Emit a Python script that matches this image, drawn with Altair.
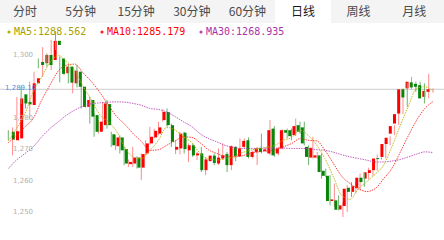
import altair as alt
import pandas as pd

# ---------------- data ----------------
opens = [1275.6, 1272.9, 1273.5, 1287.5, 1285.1, 1284.1, 1291.0, 1297.8, 1297.4, 1300.0,
         1298.4, 1304.5, 1298.9, 1294.2, 1296.3, 1291.0, 1294.7, 1289.9, 1283.5, 1285.7,
         1280.9, 1275.6, 1277.7, 1284.4, 1274.8, 1271.0, 1273.8, 1270.1, 1265.3, 1265.5,
         1267.4, 1264.2, 1268.7, 1271.9, 1273.8, 1275.0, 1279.3, 1281.9, 1277.7, 1269.9,
         1270.3, 1275.3, 1269.7, 1271.3, 1268.1, 1268.7, 1263.4, 1266.3, 1268.0, 1265.5,
         1267.1, 1268.5, 1265.0, 1270.8, 1267.8, 1270.8, 1272.9, 1267.6, 1269.2, 1270.5,
         1269.5, 1268.7, 1276.6, 1268.7, 1270.3, 1276.1, 1276.1, 1274.5, 1277.7, 1277.0,
         1270.8, 1267.4, 1267.4, 1268.1, 1263.2, 1261.6, 1253.6, 1253.8, 1250.9, 1252.0,
         1257.8, 1256.5, 1257.7, 1261.0, 1260.7, 1262.5, 1263.4, 1267.2, 1267.6, 1271.7,
         1275.0, 1278.2, 1281.4, 1289.1, 1289.4, 1291.3, 1290.8, 1290.4, 1286.7, 1288.3]
highs = [1276.1, 1277.0, 1286.7, 1289.9, 1286.7, 1291.5, 1294.7, 1298.9, 1302.5, 1300.5,
         1304.8, 1307.6, 1299.5, 1296.8, 1296.8, 1295.8, 1296.8, 1291.0, 1286.2, 1286.7,
         1281.4, 1279.3, 1285.1, 1285.7, 1275.6, 1274.5, 1274.5, 1270.8, 1266.8, 1270.8,
         1267.8, 1268.7, 1272.9, 1277.2, 1276.6, 1278.8, 1282.7, 1283.0, 1278.2, 1272.9,
         1275.6, 1275.6, 1271.9, 1271.9, 1269.2, 1270.8, 1267.6, 1268.1, 1268.7, 1270.3,
         1271.9, 1269.2, 1271.3, 1271.0, 1273.5, 1273.5, 1273.8, 1269.7, 1270.8, 1275.0,
         1270.5, 1279.3, 1277.4, 1270.8, 1276.4, 1276.6, 1276.6, 1279.8, 1278.8, 1278.8,
         1271.3, 1274.0, 1269.2, 1268.7, 1263.9, 1261.8, 1259.1, 1255.4, 1253.3, 1258.6,
         1259.6, 1259.6, 1262.3, 1262.5, 1264.2, 1263.9, 1268.4, 1267.4, 1271.9, 1274.2,
         1277.7, 1283.8, 1289.4, 1291.2, 1293.1, 1291.5, 1291.5, 1291.0, 1294.0, 1289.4]
lows = [1272.9, 1268.1, 1273.2, 1284.4, 1283.0, 1279.8, 1290.8, 1295.8, 1293.1, 1296.3,
        1295.2, 1301.6, 1291.3, 1293.6, 1291.0, 1287.8, 1289.7, 1283.0, 1283.3, 1278.2,
        1274.0, 1275.0, 1276.1, 1276.6, 1270.8, 1269.7, 1268.7, 1265.0, 1264.4, 1264.4,
        1263.9, 1260.2, 1268.1, 1271.5, 1273.5, 1274.5, 1278.8, 1277.2, 1270.8, 1268.5,
        1268.4, 1268.7, 1266.0, 1267.6, 1266.6, 1262.8, 1261.8, 1266.0, 1265.0, 1265.0,
        1266.6, 1262.8, 1263.4, 1266.2, 1267.6, 1270.3, 1267.1, 1267.1, 1265.0, 1268.7,
        1269.2, 1268.1, 1267.6, 1268.1, 1270.0, 1273.5, 1272.9, 1274.2, 1275.0, 1271.3,
        1265.0, 1267.1, 1267.1, 1260.7, 1261.2, 1252.2, 1251.9, 1250.6, 1248.5, 1250.1,
        1254.9, 1256.1, 1257.0, 1258.1, 1260.4, 1261.5, 1263.2, 1266.8, 1267.1, 1271.3,
        1274.5, 1277.7, 1281.2, 1283.5, 1289.1, 1288.3, 1286.7, 1284.6, 1286.2, 1288.0]
closes = [1273.1, 1275.8, 1286.2, 1284.6, 1284.3, 1291.0, 1292.6, 1296.8, 1300.0, 1296.8,
          1304.5, 1303.2, 1294.0, 1296.3, 1291.2, 1295.0, 1289.9, 1283.5, 1285.7, 1280.4,
          1275.6, 1278.8, 1284.6, 1277.7, 1271.3, 1273.8, 1269.7, 1265.5, 1266.0, 1267.4,
          1264.2, 1268.5, 1271.9, 1274.0, 1275.9, 1277.0, 1281.9, 1277.7, 1272.4, 1270.8,
          1275.0, 1270.1, 1271.3, 1268.1, 1268.7, 1263.4, 1266.8, 1268.0, 1265.7, 1267.4,
          1268.1, 1265.0, 1271.0, 1267.8, 1270.3, 1272.7, 1267.6, 1269.2, 1270.3, 1269.2,
          1270.0, 1276.1, 1268.1, 1270.3, 1276.1, 1275.3, 1274.2, 1277.4, 1275.6, 1271.9,
          1267.6, 1270.5, 1268.1, 1262.8, 1261.6, 1253.6, 1254.1, 1250.8, 1252.2, 1257.5,
          1256.5, 1258.3, 1261.0, 1259.6, 1262.7, 1263.4, 1267.1, 1266.9, 1271.7, 1273.7,
          1277.4, 1281.2, 1289.1, 1286.5, 1291.5, 1289.7, 1289.9, 1286.2, 1288.6, 1289.1]

ma_x = [0.0, 1.9, 3.9, 5.8, 7.8, 9.7, 11.7, 13.6, 15.5, 17.5, 19.4, 21.4, 23.3, 25.3, 27.2, 29.1, 31.1, 33.0,
        35.0, 36.9, 38.9, 40.8, 42.8, 44.7, 46.6, 48.6, 50.5, 52.5, 54.4, 56.3, 58.3, 60.2, 62.2, 64.1, 66.1, 68.0,
        69.9, 71.9, 73.8, 75.8, 77.7, 79.7, 81.6, 83.5, 85.5, 87.5, 89.4, 91.4, 93.2, 95.2, 97.1, 99.0]
ma5 = [1272.7, 1276.6, 1281.4, 1288.3, 1293.1, 1297.6, 1299.8, 1297.9, 1295.2, 1289.9, 1285.7, 1280.9,
       1278.8, 1275.6, 1270.6, 1267.6, 1267.1, 1269.7,
       1272.9, 1277.0, 1276.1, 1274.0, 1272.1, 1268.7, 1267.0, 1266.6, 1267.0, 1267.6, 1268.9, 1269.7,
       1270.2, 1270.7, 1271.3, 1272.9, 1273.8, 1276.1,
       1274.5, 1271.3, 1267.1, 1261.2, 1255.4, 1254.1, 1257.5, 1259.6, 1262.1, 1265.0, 1270.8, 1277.7,
       1283.5, 1289.4, 1289.9, 1288.6]
ma10 = [1272.1, 1274.5, 1277.2, 1279.8, 1285.7, 1290.4, 1295.0, 1296.8, 1297.1, 1294.2, 1291.5, 1288.0,
        1284.1, 1280.4, 1277.9, 1275.0, 1272.4, 1269.7,
        1269.9, 1271.3, 1272.7, 1274.0, 1273.8, 1272.1, 1269.9, 1268.7, 1267.8, 1267.6, 1267.9, 1268.7,
        1269.2, 1269.5, 1269.9, 1270.8, 1271.9, 1273.4,
        1272.9, 1272.7, 1269.7, 1265.5, 1261.5, 1259.1, 1257.5, 1256.6, 1257.5, 1260.7, 1263.9, 1269.2,
        1274.2, 1279.3, 1283.0, 1285.2]
ma30 = [1263.9, 1266.6, 1268.7, 1270.8, 1274.0, 1276.6, 1278.8, 1280.9, 1282.5, 1283.8, 1284.5, 1284.8,
        1285.0, 1285.1, 1285.0, 1284.6, 1284.0, 1283.0,
        1282.7, 1281.9, 1280.4, 1278.8, 1277.2, 1275.0, 1273.5, 1272.4, 1271.3, 1270.6, 1270.3, 1270.3,
        1270.3, 1270.4, 1270.4, 1270.4, 1270.3, 1270.3,
        1270.3, 1269.9, 1269.7, 1269.1, 1268.3, 1267.6, 1267.1, 1266.6, 1266.0, 1266.0, 1266.3, 1266.8,
        1267.6, 1268.5, 1269.2, 1269.0]

tabs = ["分时", "5分钟", "15分钟", "30分钟", "60分钟", "日线", "周线", "月线"]
selected_tab = "日线"
legend_names = ["MA5", "MA10", "MA30"]
legend_values = [1288.562, 1285.179, 1268.935]
# the 1,290 label is hidden under the current-price label in the reference
y_ticks = [1300, 1280, 1270, 1260, 1250]

# ---------------- styling / layout ----------------
W, H = 444, 240
RED, GREEN = "#ff0000", "#098409"
RED_WICK, GREEN_WICK = "#ff8c8c", "#6cb46c"
MA_COLORS = {"MA5": "#b5b000", "MA10": "#ff2020", "MA30": "#b444b4"}
LEGEND_TEXT = {"MA5": "#a8a000", "MA10": "#ff0000", "MA30": "#a834a8"}
LEGEND_X = {"MA5": 9, "MA10": 102, "MA30": 201}

xs = alt.Scale(domain=[0, 99], range=[8.3, 433])
ys = alt.Scale(domain=[1250, 1300], range=[212.3, 55])

candles = pd.DataFrame({"i": list(range(len(opens))), "open": opens, "high": highs,
                        "low": lows, "close": closes})
ma_df = pd.DataFrame({"x": ma_x, "MA5": ma5, "MA10": ma10, "MA30": ma30})

layers = []

# current price line
price_df = pd.DataFrame({"p": [closes[-1]]})
layers.append(alt.Chart(price_df).mark_rule(color="#cccccc", strokeWidth=1).encode(
    y=alt.Y("p:Q", scale=ys, axis=None), x=alt.value(0), x2=alt.value(W)))

base = alt.Chart(candles).transform_calculate(
    up="datum.close >= datum.open ? 'up' : 'down'")
for kind, body_c, wick_c in [("up", RED, RED_WICK), ("down", GREEN, GREEN_WICK)]:
    sub = base.transform_filter(alt.datum.up == kind)
    layers.append(sub.mark_rule(color=wick_c, strokeWidth=1).encode(
        x=alt.X("i:Q", scale=xs, axis=None),
        y=alt.Y("low:Q", scale=ys, axis=None), y2="high:Q"))
    layers.append(sub.mark_bar(color=body_c, size=3, orient="vertical").encode(
        x=alt.X("i:Q", scale=xs, axis=None),
        y=alt.Y("open:Q", scale=ys, axis=None), y2="close:Q"))

for name in ["MA30", "MA10", "MA5"]:
    layers.append(alt.Chart(ma_df).mark_line(color=MA_COLORS[name], strokeWidth=1,
                                              strokeDash=[1.5, 1], interpolate="monotone",
                                              opacity=0.85).encode(
        x=alt.X("x:Q", scale=xs, axis=None),
        y=alt.Y(f"{name}:Q", scale=ys, axis=None)))

# y tick labels (inside plot)
layers.append(alt.Chart(pd.DataFrame({"t": y_ticks})).mark_text(
    align="left", baseline="middle", fontSize=7, color="#b0b0b0", font="DejaVu Sans").encode(
    x=alt.value(13), y=alt.Y("t:Q", scale=ys, axis=None), text=alt.Text("t:Q", format=",")))

# current price label
layers.append(alt.Chart(price_df).mark_text(
    align="left", baseline="middle", fontSize=7, color="#4a90e2", font="DejaVu Sans", dy=-1).encode(
    x=alt.value(5), y=alt.Y("p:Q", scale=ys, axis=None), text=alt.Text("p:Q", format=",.2f")))

# tab bar
one = pd.DataFrame({"a": [0]})
layers.append(alt.Chart(one).mark_rect(color="#f4f4f4").encode(
    x=alt.value(0), x2=alt.value(W), y=alt.value(0), y2=alt.value(23)))
layers.append(alt.Chart(one).mark_rect(color="#ffffff").encode(
    x=alt.value(275), x2=alt.value(331), y=alt.value(0), y2=alt.value(23)))
tab_df = pd.DataFrame({"tab": tabs, "k": list(range(len(tabs)))})
tab_base = alt.Chart(tab_df).transform_calculate(px="25 + datum.k * 55.6")
layers.append(tab_base.transform_filter(alt.datum.tab != selected_tab).mark_text(
    fontSize=12, color="#4a4a4a", font="Noto Sans CJK SC", baseline="middle").encode(
    x=alt.X("px:Q", scale=None, axis=None), y=alt.value(12), text="tab:N"))
layers.append(tab_base.transform_filter(alt.datum.tab == selected_tab).mark_text(
    fontSize=12, color="#1a1a1a", font="Noto Sans CJK SC", baseline="middle").encode(
    x=alt.X("px:Q", scale=None, axis=None), y=alt.value(12), text="tab:N"))

# MA legend row
for n, v in zip(legend_names, legend_values):
    ldf = pd.DataFrame({"name": [n], "value": [v]})
    lc = alt.Chart(ldf).transform_calculate(label="datum.name + ':' + format(datum.value, '.3f')")
    layers.append(lc.mark_circle(color=MA_COLORS[n], size=10, opacity=1).encode(
        x=alt.value(LEGEND_X[n]), y=alt.value(32)))
    layers.append(lc.mark_text(align="left", baseline="middle", fontSize=10,
                               font="DejaVu Sans Mono", color=LEGEND_TEXT[n]).encode(
        x=alt.value(LEGEND_X[n] + 5), y=alt.value(32), text="label:N"))

chart = alt.layer(*layers).resolve_scale(x="independent", y="independent").properties(
    width=W, height=H, padding=0, autosize=alt.AutoSizeParams(type="none")
).configure_view(stroke=None)

chart.save("out.html", embed_options={"renderer": "svg", "actions": False})
